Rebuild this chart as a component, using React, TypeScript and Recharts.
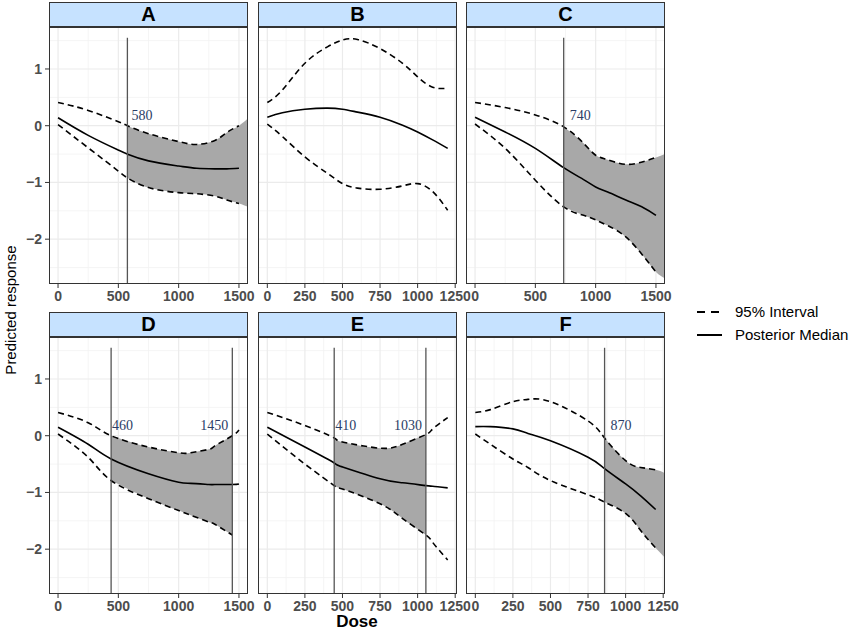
import {
  ComposedChart,
  Line,
  Area,
  XAxis,
  YAxis,
  CartesianGrid,
  ReferenceLine,
  ReferenceDot,
} from "recharts";

// shared axis settings
const Y_DOMAIN: [number, number] = [-2.79, 1.74];
const Y_TICKS = [-2, -1, 0, 1];
const Y_MINOR = [-2.5, -1.5, -0.5, 0.5, 1.5];
const X_TICKS_WIDE = [0, 500, 1000, 1500];
const X_MINOR_WIDE = [250, 750, 1250];
const X_TICKS_NARROW = [0, 250, 500, 750, 1000, 1250];
const X_MINOR_NARROW = [125, 375, 625, 875, 1125];

// panel A
const doseA = [0, 250, 500, 575, 750, 1000, 1150, 1300, 1400, 1500];
const medianA = [0.14, -0.17, -0.43, -0.5, -0.62, -0.71, -0.75, -0.76, -0.76, -0.75];
const upperA = [0.41, 0.27, 0.07, 0.0, -0.14, -0.28, -0.33, -0.26, -0.12, 0.0];
const lowerA = [0.02, -0.39, -0.8, -0.92, -1.09, -1.18, -1.2, -1.24, -1.31, -1.37];

// panel B
const doseB = [0, 100, 250, 400, 500, 600, 750, 900, 1000, 1100, 1200];
const medianB = [0.15, 0.23, 0.29, 0.31, 0.29, 0.24, 0.15, 0.01, -0.11, -0.25, -0.4];
const upperB = [0.41, 0.63, 1.1, 1.39, 1.51, 1.52, 1.36, 1.1, 0.86, 0.68, 0.66];
const lowerB = [0.03, -0.19, -0.55, -0.84, -1.02, -1.1, -1.12, -1.06, -1.02, -1.16, -1.49];

// panel C
const doseC = [0, 250, 500, 735, 900, 1000, 1100, 1250, 1400, 1500];
const medianC = [0.15, -0.11, -0.4, -0.74, -0.95, -1.08, -1.17, -1.31, -1.45, -1.58];
const upperC = [0.41, 0.32, 0.19, -0.02, -0.31, -0.52, -0.6, -0.68, -0.63, -0.56];
const lowerC = [0.03, -0.4, -0.96, -1.43, -1.58, -1.66, -1.76, -1.96, -2.31, -2.58];

// panel D
const doseD = [0, 250, 440, 750, 1000, 1100, 1250, 1300, 1445, 1500];
const medianD = [0.15, -0.15, -0.41, -0.67, -0.82, -0.84, -0.86, -0.86, -0.86, -0.85];
const upperD = [0.41, 0.23, 0.0, -0.2, -0.3, -0.3, -0.24, -0.18, 0.0, 0.1];
const lowerD = [0.03, -0.38, -0.79, -1.11, -1.32, -1.4, -1.52, -1.56, -1.75, null];

// panel E
const doseE = [0, 250, 445, 500, 750, 900, 1055, 1100, 1200];
const medianE = [0.15, -0.2, -0.48, -0.55, -0.76, -0.83, -0.88, -0.89, -0.92];
const upperE = [0.41, 0.18, -0.04, -0.11, -0.22, -0.15, 0.02, 0.12, 0.32];
const lowerE = [0.03, -0.5, -0.88, -0.94, -1.2, -1.46, -1.75, -1.88, -2.19];

// panel F
const doseF = [0, 100, 250, 350, 500, 750, 860, 1000, 1100, 1200];
const medianF = [0.16, 0.16, 0.12, 0.04, -0.09, -0.38, -0.58, -0.85, -1.06, -1.3];
const upperF = [0.41, 0.46, 0.6, 0.64, 0.6, 0.26, -0.04, -0.44, -0.56, -0.6];
const lowerF = [0.03, -0.15, -0.41, -0.56, -0.79, -1.04, -1.17, -1.37, -1.67, -1.98];

// cut-off lines and their printed labels
const cutsA = [575];
const cutLabelsA = ["580"];
const cutsC = [735];
const cutLabelsC = ["740"];
const cutsD = [440, 1445];
const cutLabelsD = ["460", "1450"];
const cutsE = [445, 1055];
const cutLabelsE = ["410", "1030"];
const cutsF = [860];
const cutLabelsF = ["870"];

// where the grey band runs past the dashed lines to the panel edge
const bandEdgeA = { dose: 1575, low: -1.43, high: 0.13 };
const bandEdgeC = { dose: 1575, low: -2.69, high: -0.5 };
const bandEdgeF = { dose: 1262, low: -2.15, high: -0.66 };

type Edge = { dose: number; low: number; high: number };

type Row = {
  dose: number;
  median?: number | null;
  upper?: number | null;
  lower?: number | null;
  band?: [number, number];
};

function buildRows(
  dose: number[],
  median: (number | null)[],
  upper: (number | null)[],
  lower: (number | null)[],
  bandFrom?: number,
  bandTo?: number,
  edge?: Edge
): Row[] {
  const rows: Row[] = dose.map((d, i) => {
    const row: Row = { dose: d, median: median[i], upper: upper[i], lower: lower[i] };
    if (
      bandFrom !== undefined &&
      d >= bandFrom &&
      (bandTo === undefined || d <= bandTo) &&
      upper[i] != null &&
      lower[i] != null
    ) {
      row.band = [lower[i] as number, upper[i] as number];
    }
    return row;
  });
  if (edge) rows.push({ dose: edge.dose, band: [edge.low, edge.high] });
  return rows;
}

const PLOT_W = 199;
const PLOT_H = 257;
const Y_AXIS_W = 41;
const X_AXIS_H = 30;
const RIGHT_PAD = 24;
const STRIP_H = 25;
const COL_LEFT = [49, 258, 466];
const ROW_TOP = [27, 337];

const TICK_STYLE = {
  fontSize: 14,
  fill: "#4D4D4D",
  fontWeight: 700,
  fontFamily: "Liberation Sans, Arial, sans-serif",
};
const LABEL_COLOR = "#2B3D66";
const CURVE = "natural";

interface PanelProps {
  title: string;
  col: number;
  row: number;
  rows: Row[];
  xDomain: [number, number];
  xTicks: number[];
  xMinor: number[];
  cuts?: number[];
  cutLabels?: string[];
  labelSide?: ("right" | "left")[];
  labelOffset?: number[];
}

function Panel({
  title,
  col,
  row,
  rows,
  xDomain,
  xTicks,
  xMinor,
  cuts = [],
  cutLabels = [],
  labelSide = [],
  labelOffset = [],
}: PanelProps) {
  const showY = col === 0;
  const left = COL_LEFT[col];
  const top = ROW_TOP[row];
  const chartLeft = showY ? left - Y_AXIS_W : left;
  const chartW = (showY ? PLOT_W + Y_AXIS_W : PLOT_W) + RIGHT_PAD;

  return (
    <>
      <div
        style={{
          position: "absolute",
          left,
          top: top - STRIP_H,
          width: PLOT_W,
          height: STRIP_H,
          boxSizing: "border-box",
          border: "1.3px solid #333",
          background: "#C6E2FF",
          textAlign: "center",
          fontWeight: 700,
          fontSize: 20,
          lineHeight: `${STRIP_H - 2}px`,
          color: "#000",
        }}
      >
        {title}
      </div>
      <div style={{ position: "absolute", left: chartLeft, top }}>
        <ComposedChart
          width={chartW}
          height={PLOT_H + X_AXIS_H}
          data={rows}
          margin={{ top: 0, right: RIGHT_PAD, bottom: 0, left: 0 }}
        >
          <CartesianGrid
            verticalValues={xMinor}
            horizontalValues={Y_MINOR}
            stroke="#F3F3F3"
            strokeWidth={0.8}
          />
          <CartesianGrid verticalValues={xTicks} horizontalValues={Y_TICKS} stroke="#EBEBEB" strokeWidth={1.2} />
          <XAxis
            dataKey="dose"
            type="number"
            domain={xDomain}
            ticks={xTicks}
            allowDataOverflow
            axisLine={false}
            tickLine={{ stroke: "#333" }}
            tickSize={4}
            tickMargin={3}
            tick={TICK_STYLE}
            height={X_AXIS_H}
            interval={0}
          />
          <YAxis
            type="number"
            domain={Y_DOMAIN}
            ticks={Y_TICKS}
            allowDataOverflow
            hide={!showY}
            width={Y_AXIS_W}
            axisLine={false}
            tickLine={{ stroke: "#333" }}
            tickSize={4}
            tickMargin={3}
            tick={TICK_STYLE}
            tickFormatter={(v: number) => (v < 0 ? `\u2212${Math.abs(v)}` : `${v}`)}
            interval={0}
          />
          <Area
            dataKey="band"
            type={CURVE}
            fill="#A8A8A8"
            fillOpacity={1}
            stroke="none"
            isAnimationActive={false}
            connectNulls={false}
            activeDot={false}
          />
          <Line
            dataKey="upper"
            type={CURVE}
            stroke="#000"
            strokeWidth={1.6}
            strokeDasharray="6 4"
            dot={false}
            activeDot={false}
            isAnimationActive={false}
          />
          <Line
            dataKey="lower"
            type={CURVE}
            stroke="#000"
            strokeWidth={1.6}
            strokeDasharray="6 4"
            dot={false}
            activeDot={false}
            isAnimationActive={false}
          />
          <Line
            dataKey="median"
            type={CURVE}
            stroke="#000"
            strokeWidth={1.6}
            dot={false}
            activeDot={false}
            isAnimationActive={false}
          />
          {cuts.map((c, i) => (
            <ReferenceLine
              key={`cut-${i}`}
              segment={[
                { x: c, y: 1.55 },
                { x: c, y: Y_DOMAIN[0] },
              ]}
              stroke="#555"
              strokeWidth={1.3}
            />
          ))}
          {cuts.map((c, i) => (
            <ReferenceDot
              key={`lab-${i}`}
              x={c}
              y={0.19}
              r={0}
              fill="none"
              stroke="none"
              label={{
                value: cutLabels[i],
                position: labelSide[i] ?? "right",
                offset: labelOffset[i] ?? 4,
                fill: LABEL_COLOR,
                fontSize: 14,
                fontFamily: "Liberation Serif, Times New Roman, serif",
              }}
            />
          ))}
        </ComposedChart>
      </div>
      <div
        style={{
          position: "absolute",
          left,
          top,
          width: PLOT_W,
          height: PLOT_H,
          boxSizing: "border-box",
          border: "1.3px solid #333",
          pointerEvents: "none",
        }}
      />
    </>
  );
}

const WIDE: [number, number] = [-75, 1575];
const NARROW: [number, number] = [-62, 1262];

export default function App() {
  return (
    <div
      style={{
        position: "absolute",
        left: 0,
        top: 0,
        width: 858,
        height: 631,
        background: "#fff",
        fontFamily: "Liberation Sans, Arial, sans-serif",
        overflow: "hidden",
      }}
    >
      <Panel
        title="A"
        col={0}
        row={0}
        rows={buildRows(doseA, medianA, upperA, lowerA, cutsA[0], undefined, bandEdgeA)}
        xDomain={WIDE}
        xTicks={X_TICKS_WIDE}
        xMinor={X_MINOR_WIDE}
        cuts={cutsA}
        cutLabels={cutLabelsA}
        labelOffset={[4]}
      />
      <Panel
        title="B"
        col={1}
        row={0}
        rows={buildRows(doseB, medianB, upperB, lowerB)}
        xDomain={NARROW}
        xTicks={X_TICKS_NARROW}
        xMinor={X_MINOR_NARROW}
      />
      <Panel
        title="C"
        col={2}
        row={0}
        rows={buildRows(doseC, medianC, upperC, lowerC, cutsC[0], undefined, bandEdgeC)}
        xDomain={WIDE}
        xTicks={X_TICKS_WIDE}
        xMinor={X_MINOR_WIDE}
        cuts={cutsC}
        cutLabels={cutLabelsC}
        labelOffset={[6]}
      />
      <Panel
        title="D"
        col={0}
        row={1}
        rows={buildRows(doseD, medianD, upperD, lowerD, cutsD[0], cutsD[1])}
        xDomain={WIDE}
        xTicks={X_TICKS_WIDE}
        xMinor={X_MINOR_WIDE}
        cuts={cutsD}
        cutLabels={cutLabelsD}
        labelSide={["right", "left"]}
        labelOffset={[1, 4]}
      />
      <Panel
        title="E"
        col={1}
        row={1}
        rows={buildRows(doseE, medianE, upperE, lowerE, cutsE[0], cutsE[1])}
        xDomain={NARROW}
        xTicks={X_TICKS_NARROW}
        xMinor={X_MINOR_NARROW}
        cuts={cutsE}
        cutLabels={cutLabelsE}
        labelSide={["right", "left"]}
        labelOffset={[1, 4]}
      />
      <Panel
        title="F"
        col={2}
        row={1}
        rows={buildRows(doseF, medianF, upperF, lowerF, cutsF[0], undefined, bandEdgeF)}
        xDomain={NARROW}
        xTicks={X_TICKS_NARROW}
        xMinor={X_MINOR_NARROW}
        cuts={cutsF}
        cutLabels={cutLabelsF}
        labelOffset={[6]}
      />

      {/* axis titles */}
      <div
        style={{
          position: "absolute",
          left: 10,
          top: 310,
          transform: "translate(-50%, -50%) rotate(-90deg)",
          whiteSpace: "nowrap",
          fontSize: 15,
          color: "#000",
        }}
      >
        Predicted response
      </div>
      <div
        style={{
          position: "absolute",
          left: 357,
          top: 622,
          transform: "translate(-50%, -50%)",
          fontSize: 17,
          fontWeight: 700,
          color: "#000",
        }}
      >
        Dose
      </div>

      {/* legend */}
      <div style={{ position: "absolute", left: 694, top: 300, fontSize: 15, color: "#000" }}>
        <div style={{ display: "flex", alignItems: "center", height: 23 }}>
          <svg width={34} height={10}>
            <line x1={3} y1={5} x2={28} y2={5} stroke="#000" strokeWidth={2} strokeDasharray="8 6" />
          </svg>
          <span style={{ marginLeft: 7 }}>95% Interval</span>
        </div>
        <div style={{ display: "flex", alignItems: "center", height: 23 }}>
          <svg width={34} height={10}>
            <line x1={3} y1={5} x2={28} y2={5} stroke="#000" strokeWidth={2} />
          </svg>
          <span style={{ marginLeft: 7 }}>Posterior Median</span>
        </div>
      </div>
    </div>
  );
}
